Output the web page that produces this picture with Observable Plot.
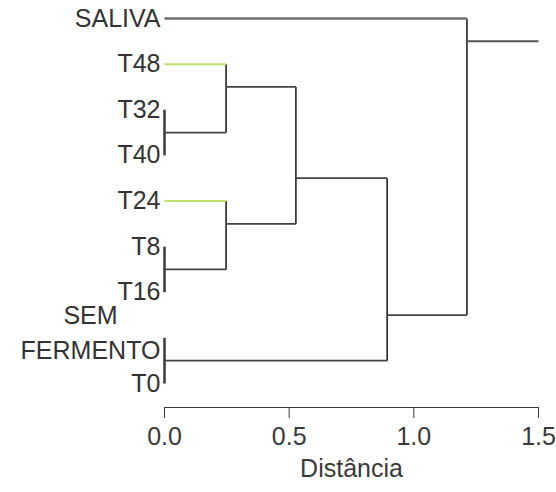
<!DOCTYPE html>
<html><head><meta charset="utf-8">
<script src="https://cdn.jsdelivr.net/npm/d3@7"></script>
<script src="https://cdn.jsdelivr.net/npm/@observablehq/plot@0.6"></script>
<style>html,body{margin:0;padding:0;background:#fff}</style>
</head><body><div id="chart"></div>
<script>
// Leaves (top to bottom) and their row positions
const leaves = ["SALIVA", "T48", "T32", "T40", "T24", "T8", "T16", "SEM\nFERMENTO", "T0"];
const leafRow = [0, 1, 2, 3, 4, 5, 6, 7, 8];
// Internal nodes: merge distance, children, row where the node's branch leaves
const nodeIds = ["n1", "n2", "n3", "n4", "n5", "n6", "n7", "n8"];
const nodeHeight = [0, 0, 0, 0.247, 0.247, 0.527, 0.893, 1.213];
const nodeChildren = [
  ["T32", "T40"], ["T8", "T16"], ["SEM\nFERMENTO", "T0"],
  ["T48", "n1"], ["T24", "n2"], ["n4", "n5"], ["n6", "n3"], ["SALIVA", "n7"]
];
const nodeRow = [2.5, 5.5, 7.5, 1.5, 4.5, 3.5, 6.5, 0.5];
const rootEnd = 1.5;
const greenLeaves = ["T48", "T24"];
const greyLeaves = ["SALIVA"];
const tickValues = [0, 0.5, 1.0, 1.5];
const tickLabels = ["0.0", "0.5", "1.0", "1.5"];
const axisTitle = "Distância";

// Build positions
const pos = new Map();
leaves.forEach((l, i) => pos.set(l, {x: 0, y: leafRow[i]}));
nodeIds.forEach((n, i) => pos.set(n, {x: nodeHeight[i], y: nodeRow[i]}));

const segs = [];
nodeIds.forEach((n, i) => {
  const h = nodeHeight[i];
  const ys = nodeChildren[i].map(c => pos.get(c).y);
  segs.push({x1: h, x2: h, y1: d3.min(ys), y2: d3.max(ys), kind: h === 0 ? "bar" : "v"});
  nodeChildren[i].forEach(c => {
    const p = pos.get(c);
    if (p.x === h) return;
    const kind = greenLeaves.includes(c) ? "green" : greyLeaves.includes(c) ? "grey" : "h";
    segs.push({x1: p.x, x2: h, y1: p.y, y2: p.y, kind});
  });
});
const root = nodeIds[nodeIds.length - 1];
segs.push({x1: pos.get(root).x, x2: rootEnd, y1: pos.get(root).y, y2: pos.get(root).y, kind: "root"});

const colorOf = {bar: "#3a3a3a", v: "#222", h: "#444", green: "#bde06a", grey: "#707070", root: "#555"};
const widthOf = {bar: 2.5, v: 1.6, h: 1.8, green: 2, grey: 2.5, root: 2};

const leafData = leaves.map((l, i) => ({name: l, row: leafRow[i]}));

const chart = Plot.plot({
  width: 556,
  height: 492,
  marginLeft: 164,
  marginRight: 18,
  marginTop: 18,
  marginBottom: 85,
  style: {fontFamily: "'Liberation Sans', Arial, sans-serif", fontSize: "25px", color: "#3a3a3a", background: "#fff", overflow: "visible"},
  x: {domain: [0, 1.5], ticks: tickValues, tickFormat: (d) => tickLabels[tickValues.indexOf(d)],
      tickSize: 11, tickPadding: 9, line: true, label: axisTitle, labelAnchor: "center", labelOffset: 69, labelArrow: "none"},
  y: {domain: [0, 8], reverse: true, insetBottom: 24, axis: null},
  marks: [
    Plot.link(segs, {x1: "x1", x2: "x2", y1: "y1", y2: "y2",
      stroke: d => colorOf[d.kind], strokeWidth: d => widthOf[d.kind], strokeLinecap: "butt"}),
    Plot.text(leafData.filter(d => !d.name.includes("\n")), {x: 0, y: "row", text: "name", textAnchor: "end", dx: -4, fill: "#333"}),
    Plot.text(leafData.filter(d => d.name.includes("\n")), {x: 0, y: "row", text: "name", textAnchor: "middle", dx: -74, dy: -8, lineHeight: 1.4, fill: "#333"})
  ]
});
document.getElementById("chart").appendChild(chart);
</script>
</body></html>
